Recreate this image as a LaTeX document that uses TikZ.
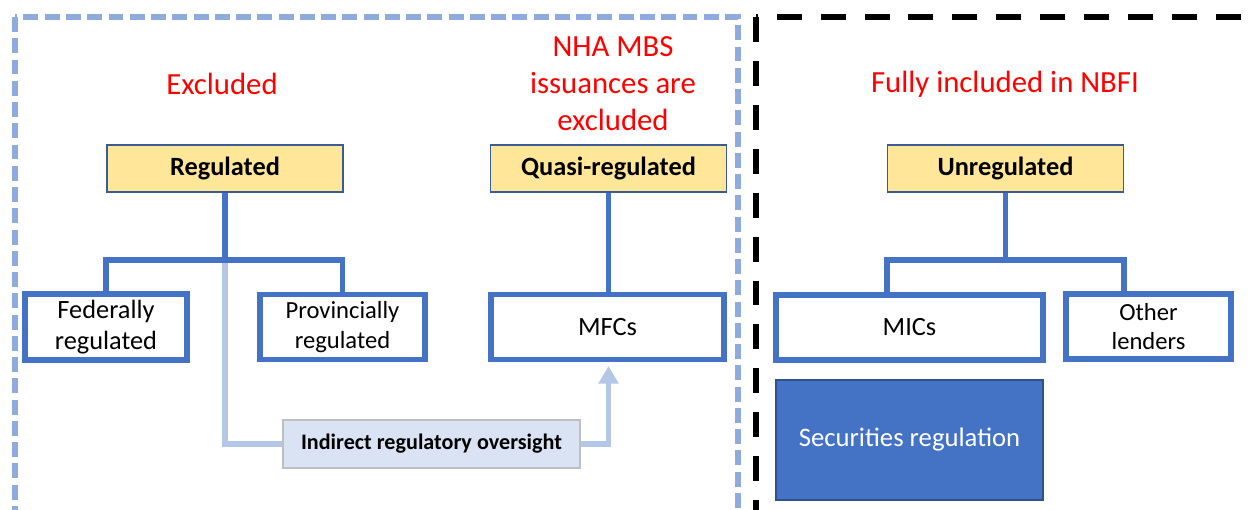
\documentclass[tikz,border=0pt]{standalone}
\usepackage{fontspec}
\setmainfont{Carlito}
\usetikzlibrary{arrows.meta,positioning}

\definecolor{boxblue}{HTML}{4472C4}
\definecolor{headfill}{HTML}{FFE699}
\definecolor{headedge}{HTML}{3A5A98}
\definecolor{palelink}{HTML}{B4C7E7}
\definecolor{oversightfill}{HTML}{DAE3F3}
\definecolor{framblue}{HTML}{8FAADC}
\definecolor{secedge}{HTML}{2F528F}

\begin{document}
\begin{tikzpicture}[
    x = 0.02cm, y = -0.02cm, % one unit = one pixel of the sketch
    > = {Triangle[width=11pt,length=10pt]},
    head/.style = {draw = headedge, fill = headfill, line width = 1pt,
        minimum width = 4.72cm, minimum height = 0.94cm,
        font = \fontsize{15}{17}\selectfont\bfseries},
    leaf/.style = {draw = boxblue, fill = white, line width = 3.4pt,
        minimum height = 1.3cm, align = center,
        font = \fontsize{15}{17.6}\selectfont},
    note/.style = {text = red, align = center,
        font = \fontsize{17.5}{21}\selectfont},
    tree/.style = {draw = boxblue, line width = 3.4pt},
    oversight/.style = {draw = palelink, line width = 3.2pt}
    ]

    \useasboundingbox (0,0) rectangle (1248,510);

    % the two scope frames
    \begin{scope}
        \clip (0,0) rectangle (1248,510);
        \draw[framblue, line width = 3pt, dash pattern = on 8.5pt off 3.6pt]
            (15,17) rectangle (738,560);
        \draw[black, line width = 3.4pt, dash pattern = on 14.2pt off 10.8pt]
            (756,17) rectangle (1290,560);
    \end{scope}

    % headings
    \node[note] (excl) at (222,84) {Excluded};
    \node[note] (nha) at (613,84) {NHA MBS\\issuances are\\excluded};
    \node[note] (incl) at (1005,84) {Fully included in NBFI};

    % top level
    \node[head] (reg) at (225,168.5) {Regulated};
    \node[head] (quasi) at (608.5,168.5) {Quasi-regulated};
    \node[head] (unreg) at (1005.5,168.5) {Unregulated};

    % lenders
    \node[leaf, minimum width = 3.24cm] (fed) at (106,327) {Federally\\regulated};
    \node[leaf, minimum width = 3.3cm,
        font = \fontsize{14}{17}\selectfont] (prov) at (342.5,327) {Provincially\\regulated};
    \node[leaf, minimum width = 4.66cm] (mfc) at (607.5,327) {MFCs};
    \node[leaf, minimum width = 5.34cm] (mic) at (909.5,327.5) {MICs};
    \node[leaf, minimum width = 3.3cm,
        font = \fontsize{14}{17}\selectfont] (other) at (1148.5,326.5) {Other\\lenders};

    \node[draw = secedge, fill = boxblue, text = white, line width = 1.2pt,
        minimum width = 5.34cm, minimum height = 2.4cm,
        font = \fontsize{15.2}{17}\selectfont] (sec) at (909.5,440) {Securities regulation};
    \node[draw = black!25, fill = oversightfill, line width = 0.8pt,
        minimum width = 5.94cm, minimum height = 0.96cm,
        font = \fontsize{12.6}{14}\selectfont\bfseries] (indirect) at (431.5,444) {Indirect regulatory oversight};

    \coordinate (regfork) at (225,260);
    \coordinate (unfork) at (1005.5,260);

    % indirect oversight link
    \draw[oversight] (regfork) |- (indirect.west);
    \draw[oversight, ->, shorten > = 2pt] (indirect.east) -| (quasi.south |- mfc.south);

    % tree connectors
    \draw[tree] (reg.south) -- (regfork);
    \draw[tree] (fed.north) |- (prov.north |- regfork) -- (prov.north);
    \draw[tree] (quasi.south) -- (quasi.south |- mfc.north);
    \draw[tree] (unreg.south) -- (unfork);
    \draw[tree] (mic.north -| unreg.west) |- (unfork) -| (other.north -| unreg.east);
\end{tikzpicture}
\end{document}
